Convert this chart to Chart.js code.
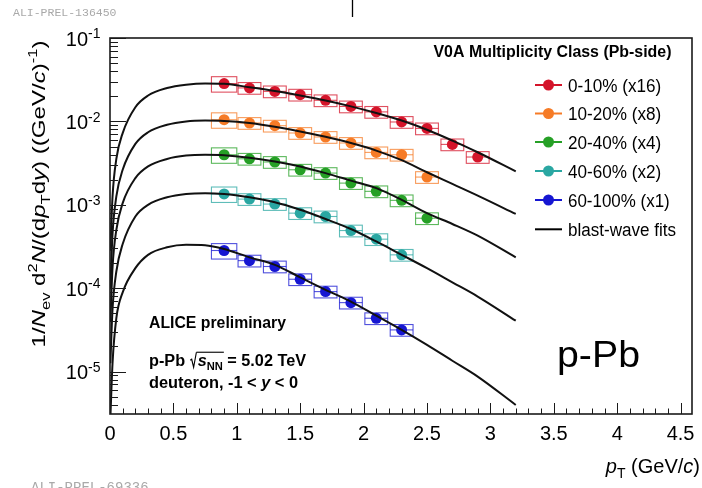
<!DOCTYPE html>
<html>
<head>
<meta charset="utf-8">
<title>deuteron pT spectra, p-Pb 5.02 TeV</title>
<script src="https://cdn.jsdelivr.net/npm/chart.js@4.4.1/dist/chart.umd.min.js"></script>
<style>
  html, body { margin: 0; padding: 0; background: #fff; }
  canvas { display: block; }
</style>
</head>
<body>
<canvas id="spectra" width="702" height="488"></canvas>
<script>
// deuteron spectra per V0A class (already scaled)
const ptCenters   = [0.9, 1.1, 1.3, 1.5, 1.7, 1.9, 2.1, 2.3, 2.5, 2.7, 2.9];
const ptHalfWidth = [0.1, 0.09, 0.09, 0.09, 0.09, 0.09, 0.09, 0.09, 0.09, 0.09, 0.09];
const sysRel      = [0.21, 0.16, 0.16, 0.16, 0.16, 0.16, 0.16, 0.16, 0.16, 0.16, 0.16];

const yield0010  = [0.0284, 0.0252, 0.0229, 0.0209, 0.0179, 0.0151, 0.0130, 0.00984, 0.00824, 0.00530, 0.00374];
const yield1020  = [0.01047, 0.00957, 0.00888, 0.00726, 0.00650, 0.00551, 0.00425, 0.00398, 0.00215];
const yield2040  = [0.00398, 0.00356, 0.00326, 0.00263, 0.00240, 0.00182, 0.00145, 0.00113, 0.00069];
const yield4060  = [0.00135, 0.00117, 0.00102, 0.000794, 0.000724, 0.000491, 0.000387, 0.000251];
const yield60100 = [0.000283, 0.000214, 0.000182, 0.000128, 0.0000910, 0.0000671, 0.0000436, 0.0000316];

// blast-wave curves, sampled by eye along each drawn line
const fitPt      = [0.003, 0.02, 0.05, 0.1, 0.2, 0.3, 0.45, 0.6, 0.75, 0.9, 1.1, 1.3, 1.5, 1.7, 1.9, 2.1, 2.3, 2.5, 2.7, 2.9, 3.2];
const fit0010    = [2.818e-4, 1.259e-3, 3.548e-3, 7.244e-3, 1.479e-2, 2.042e-2, 2.512e-2, 2.754e-2, 2.851e-2, 2.818e-2, 2.570e-2, 2.317e-2, 2.042e-2, 1.778e-2, 1.514e-2, 1.259e-2, 1.023e-2, 7.943e-3, 5.888e-3, 4.266e-3, 2.512e-3];
const fit1020    = [1.0e-4, 4.467e-4, 1.259e-3, 2.630e-3, 5.370e-3, 7.413e-3, 9.120e-3, 1.0e-2, 1.023e-2, 1.012e-2, 9.550e-3, 8.610e-3, 7.586e-3, 6.531e-3, 5.495e-3, 4.467e-3, 3.428e-3, 2.455e-3, 1.778e-3, 1.288e-3, 7.762e-4];
const fit2040    = [3.981e-5, 1.778e-4, 5.012e-4, 1.047e-3, 2.089e-3, 2.884e-3, 3.548e-3, 3.890e-3, 3.981e-3, 3.936e-3, 3.673e-3, 3.311e-3, 2.884e-3, 2.399e-3, 1.950e-3, 1.585e-3, 1.148e-3, 7.943e-4, 5.888e-4, 4.266e-4, 2.344e-4];
const fit4060    = [1.259e-5, 5.623e-5, 1.585e-4, 3.388e-4, 7.244e-4, 1.0e-3, 1.230e-3, 1.349e-3, 1.380e-3, 1.349e-3, 1.230e-3, 1.072e-3, 8.710e-4, 6.761e-4, 5.129e-4, 3.631e-4, 2.512e-4, 1.738e-4, 1.175e-4, 7.943e-5, 4.074e-5];
const fit60100   = [2.818e-6, 1.259e-5, 4.365e-5, 8.913e-5, 1.738e-4, 2.512e-4, 3.090e-4, 3.311e-4, 3.273e-4, 2.951e-4, 2.344e-4, 1.905e-4, 1.349e-4, 9.550e-5, 6.918e-5, 4.677e-5, 3.162e-5, 2.089e-5, 1.349e-5, 8.710e-6, 3.981e-6];

const classLabels = ['0-10% (x16)', '10-20% (x8)', '20-40% (x4)', '40-60% (x2)', '60-100% (x1)'];
const classColors = ['#d4142a', '#f67b26', '#26a026', '#2aa7a2', '#1616d2'];
const classYields = [yield0010, yield1020, yield2040, yield4060, yield60100];
const classFits   = [fit0010, fit1020, fit2040, fit4060, fit60100];

const xTickValues = [0, 0.5, 1, 1.5, 2, 2.5, 3, 3.5, 4, 4.5];
const xTickLabels = ['0', '0.5', '1', '1.5', '2', '2.5', '3', '3.5', '4', '4.5'];
const yTickValues = [1e-1, 1e-2, 1e-3, 1e-4, 1e-5];
const yTickExps   = ['-1', '-2', '-3', '-4', '-5'];

const FONT = '"Liberation Sans", Arial, Helvetica, sans-serif';

// draw text made of pieces (italic / sub / sup / radical), optionally squeezed to a width
function drawRich(ctx, parts, x, y, o) {
  const size = o.size;
  const bold = o.bold ? 'bold ' : '';
  const fontOf = p => (p.i ? 'italic ' : '') + bold + (p.s ? Math.round(size * 0.7) : size) + 'px ' + FONT;
  const ws = [];
  let w = 0;
  for (const p of parts) {
    let pw;
    if (p.rad) pw = size * 0.5;
    else { ctx.font = fontOf(p); pw = ctx.measureText(p.t).width; }
    ws.push(pw);
    w += pw;
  }
  const k = o.width ? o.width / w : 1;
  const total = w * k;
  const x0 = o.align === 'center' ? x - total / 2 : (o.align === 'right' ? x - total : x);
  ctx.save();
  ctx.translate(x0, y);
  ctx.scale(k, 1);
  ctx.fillStyle = o.color || '#000';
  ctx.strokeStyle = o.color || '#000';
  ctx.textAlign = 'left';
  ctx.textBaseline = 'alphabetic';
  let cx = 0, radStart = null;
  parts.forEach((p, i) => {
    if (p.rad) {
      ctx.lineWidth = size * 0.07;
      ctx.beginPath();
      ctx.moveTo(cx + size * 0.04, -size * 0.36);
      ctx.lineTo(cx + size * 0.13, -size * 0.42);
      ctx.lineTo(cx + size * 0.25, size * 0.08);
      ctx.lineTo(cx + size * 0.42, -size * 0.86);
      ctx.stroke();
      radStart = cx + size * 0.42;
    } else {
      ctx.font = fontOf(p);
      const dy = p.s === 'sub' ? size * 0.25 : (p.s === 'sup' ? -size * (o.supRaise || 0.4) : 0);
      ctx.fillText(p.t, cx, dy);
    }
    cx += ws[i];
    if (p.endRad && radStart !== null) {
      ctx.lineWidth = size * 0.07;
      ctx.beginPath();
      ctx.moveTo(radStart, -size * 0.86);
      ctx.lineTo(cx + 1, -size * 0.86);
      ctx.stroke();
      radStart = null;
    }
  });
  ctx.restore();
}

const sysBoxes = {
  id: 'sysBoxes',
  beforeDatasetsDraw(chart) {
    const { ctx, chartArea: a, scales: { x, y } } = chart;
    ctx.save();
    ctx.beginPath();
    ctx.rect(a.left, a.top, a.right - a.left, a.bottom - a.top);
    ctx.clip();
    ctx.lineWidth = 1.1;
    ctx.globalAlpha = 0.75;
    classYields.forEach((vals, c) => {
      ctx.strokeStyle = classColors[c];
      vals.forEach((v, i) => {
        const x0 = x.getPixelForValue(ptCenters[i] - ptHalfWidth[i]);
        const x1 = x.getPixelForValue(ptCenters[i] + ptHalfWidth[i]);
        const y0 = y.getPixelForValue(v * (1 + sysRel[i]));
        const y1 = y.getPixelForValue(v * (1 - sysRel[i]));
        const ym = y.getPixelForValue(v);
        ctx.strokeRect(x0, y0, x1 - x0, y1 - y0);
        ctx.beginPath();
        ctx.moveTo(x0, ym);
        ctx.lineTo(x1, ym);
        ctx.stroke();
      });
    });
    ctx.restore();
  },
};

const frameAndText = {
  id: 'frameAndText',
  afterDraw(chart) {
    const { ctx, chartArea: a, scales: { x, y } } = chart;
    ctx.save();

    // frame + inward ticks (ROOT style)
    ctx.strokeStyle = '#1a1a1a';
    ctx.lineWidth = 1;
    for (let e = -6; e <= -1; e++) {
      for (let m = 1; m <= 9; m++) {
        const v = m * Math.pow(10, e);
        if (v < y.min || v > y.max) continue;
        const py = Math.round(y.getPixelForValue(v)) + 0.5;
        ctx.beginPath();
        ctx.moveTo(a.left, py);
        ctx.lineTo(a.left + (m === 1 ? 16 : 8), py);
        ctx.stroke();
      }
    }
    for (let k = 0; k <= 45; k++) {
      const px = Math.round(x.getPixelForValue(k / 10)) + 0.5;
      ctx.beginPath();
      ctx.moveTo(px, a.bottom);
      ctx.lineTo(px, a.bottom - (k % 5 === 0 ? 11 : 5.5));
      ctx.stroke();
    }
    ctx.lineWidth = 1.6;
    ctx.strokeRect(a.left, a.top, a.right - a.left, a.bottom - a.top);

    // tick labels
    ctx.fillStyle = '#000';
    ctx.font = '20px ' + FONT;
    ctx.textAlign = 'center';
    ctx.textBaseline = 'alphabetic';
    xTickValues.forEach((v, i) => ctx.fillText(xTickLabels[i], x.getPixelForValue(v), 440));
    yTickValues.forEach((v, i) => {
      const py = y.getPixelForValue(v);
      drawRich(ctx, [{ t: '10' }, { t: yTickExps[i], s: 'sup' }], 100.5, py + 7.5, { size: 20, align: 'right', supRaise: 0.36 });
    });

    // axis titles
    ctx.save();
    ctx.translate(45, 194);
    ctx.rotate(-Math.PI / 2);
    drawRich(ctx, [
      { t: '1/' }, { t: 'N', i: 1 }, { t: 'ev', s: 'sub' }, { t: ' d' }, { t: '2', s: 'sup' }, { t: 'N', i: 1 },
      { t: '/(d' }, { t: 'p', i: 1 }, { t: 'T', s: 'sub' }, { t: 'd' }, { t: 'y', i: 1 }, { t: ') ((GeV/' },
      { t: 'c', i: 1 }, { t: ')' }, { t: '-1', s: 'sup' }, { t: ')' },
    ], 0, 0, { size: 19, align: 'center', width: 307 });
    ctx.restore();
    drawRich(ctx, [{ t: 'p', i: 1 }, { t: 'T', s: 'sub' }, { t: ' (GeV/' }, { t: 'c', i: 1 }, { t: ')' }], 700, 473, { size: 20, align: 'right' });

    // legend
    drawRich(ctx, [{ t: 'V0A Multiplicity Class (Pb-side)' }], 433.5, 56.5, { size: 16, bold: true, width: 238 });
    const rowY = [85, 113.5, 142, 171, 200, 229.3];
    classLabels.forEach((lab, c) => {
      const ry = rowY[c];
      ctx.strokeStyle = classColors[c];
      ctx.fillStyle = classColors[c];
      ctx.lineWidth = 2;
      ctx.beginPath();
      ctx.moveTo(535, ry);
      ctx.lineTo(562, ry);
      ctx.stroke();
      ctx.beginPath();
      ctx.arc(548.5, ry, 5.5, 0, Math.PI * 2);
      ctx.fill();
      drawRich(ctx, [{ t: lab }], 568, ry + 6.5, { size: 18, width: lab.length * 8.48 });
    });
    ctx.strokeStyle = '#000';
    ctx.lineWidth = 2;
    ctx.beginPath();
    ctx.moveTo(535, rowY[5]);
    ctx.lineTo(562, rowY[5]);
    ctx.stroke();
    drawRich(ctx, [{ t: 'blast-wave fits' }], 568, rowY[5] + 6.5, { size: 18, width: 108 });

    // labels inside the frame
    drawRich(ctx, [{ t: 'ALICE preliminary' }], 149, 328, { size: 16, bold: true, width: 137 });
    drawRich(ctx, [
      { t: 'p-Pb ' }, { rad: true }, { t: 's', i: 1 }, { t: 'NN', s: 'sub', endRad: true }, { t: ' = 5.02 TeV' },
    ], 149, 366, { size: 16, bold: true, width: 157 });
    drawRich(ctx, [{ t: 'deuteron, -1 < ' }, { t: 'y', i: 1 }, { t: ' < 0' }], 149, 388, { size: 16, bold: true, width: 149 });
    drawRich(ctx, [{ t: 'p-Pb' }], 557, 366.5, { size: 37, width: 83 });

    // preliminary ids
    ctx.fillStyle = '#a9a9a9';
    ctx.textAlign = 'left';
    ctx.font = '11.5px "Liberation Mono", "DejaVu Sans Mono", monospace';
    ctx.fillText('ALI-PREL-136450', 13, 15.5);
    ctx.font = '14px "Liberation Mono", "DejaVu Sans Mono", monospace';
    ctx.fillText('ALI-PREL-69336', 31, 492);

    ctx.strokeStyle = '#000';
    ctx.lineWidth = 1.3;
    ctx.beginPath();
    ctx.moveTo(352.5, 0);
    ctx.lineTo(352.5, 17);
    ctx.stroke();

    ctx.restore();
  },
};

const datasets = [];
classYields.forEach((vals, c) => {
  datasets.push({
    type: 'scatter',
    label: classLabels[c],
    data: vals.map((v, i) => ({ x: ptCenters[i], y: v })),
    backgroundColor: classColors[c],
    borderColor: classColors[c],
    pointRadius: 5.5,
    pointBorderWidth: 0,
    order: 1,
  });
});
classFits.forEach((vals, c) => {
  datasets.push({
    type: 'line',
    label: 'fit ' + classLabels[c],
    data: vals.map((v, i) => ({ x: fitPt[i], y: v })),
    borderColor: '#111',
    borderWidth: 2,
    pointRadius: 0,
    fill: false,
    cubicInterpolationMode: 'monotone',
    order: 0,
  });
});

new Chart(document.getElementById('spectra'), {
  type: 'scatter',
  data: { datasets },
  options: {
    responsive: false,
    devicePixelRatio: 1,
    animation: false,
    events: [],
    layout: { padding: { left: 110, right: 10, top: 38, bottom: 74 } },
    plugins: { legend: { display: false }, tooltip: { enabled: false } },
    scales: {
      x: { type: 'linear', min: 0, max: 4.59, display: false },
      y: { type: 'logarithmic', min: 3.1e-6, max: 0.1, display: false },
    },
  },
  plugins: [sysBoxes, frameAndText],
});
</script>
</body>
</html>
